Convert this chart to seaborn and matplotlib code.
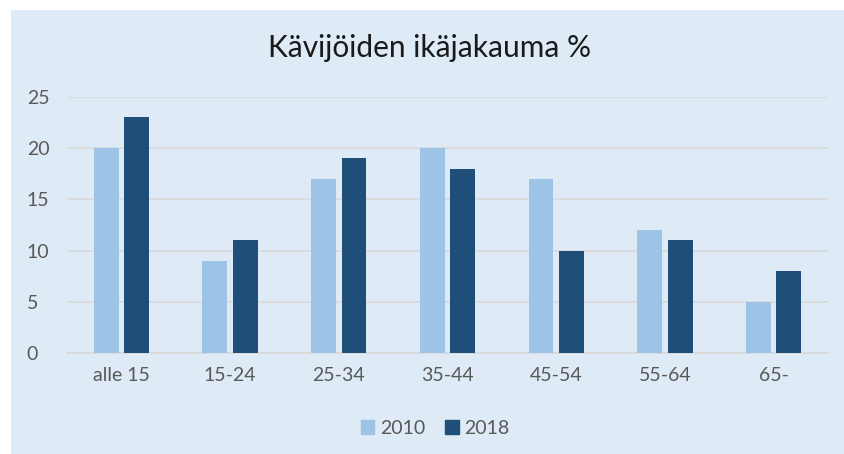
import pandas as pd
import matplotlib.pyplot as plt
import matplotlib.patches as mpatches
import seaborn as sns

# data
groups = ["alle 15", "15-24", "25-34", "35-44", "45-54", "55-64", "65-"]
v2010 = [20, 9, 17, 20, 17, 12, 5]
v2018 = [23, 11, 19, 18, 10, 11, 8]
years = ["2010", "2018"]

df = pd.DataFrame({
    "Ikä": groups * 2,
    "Vuosi": [years[0]] * len(groups) + [years[1]] * len(groups),
    "Osuus": v2010 + v2018,
})

bg = "#DEEAF6"
txt = "#595959"
colors = ["#9DC3E6", "#1F4E79"]

sns.set_theme(style="white")
plt.rcParams["font.family"] = ["Lato", "DejaVu Sans"]

fig = plt.figure(figsize=(8.45, 4.54), dpi=100)
fig.patch.set_facecolor("white")
fig.patches.append(mpatches.Rectangle((11 / 845, 0), 1 - 11 / 845, 1 - 10 / 454,
                                      transform=fig.transFigure, facecolor=bg,
                                      edgecolor="none", zorder=-5))

ax = fig.add_axes([67 / 845, 1 - 353 / 454, (828 - 67) / 845, (353 - 97) / 454])
ax.set_facecolor("none")
ax.set_zorder(2)

sns.barplot(data=df, x="Ikä", y="Osuus", hue="Vuosi",
            palette=colors, saturation=1, width=0.56, gap=0.18,
            linewidth=0, ax=ax, legend=False, zorder=3)

ax.set_ylim(0, 25)
ax.set_yticks(range(0, 26, 5))
ax.set_xlim(-0.5, len(groups) - 0.5)
ax.yaxis.grid(True, color="#D9D9D9", linewidth=1.2, zorder=0)
ax.set_axisbelow(True)
for s in ["top", "right", "left"]:
    ax.spines[s].set_visible(False)
ax.spines["bottom"].set_color("#D9D9D9")
ax.spines["bottom"].set_linewidth(1.2)
ax.tick_params(axis="both", length=0, labelsize=14, colors=txt)
ax.tick_params(axis="x", pad=10)
ax.tick_params(axis="y", pad=29)
for lab in ax.get_yticklabels():
    lab.set_horizontalalignment("left")
ax.set_xlabel("")
ax.set_ylabel("")

fig.text(430 / 845, 1 - 48 / 454, "Kävijöiden ikäjakauma %", ha="center", va="center",
         fontsize=21.5, color="#1a1a1a")

handles = [mpatches.Patch(color=colors[0], label="2010"),
           mpatches.Patch(color=colors[1], label="2018")]
fig.legend(handles=handles, loc="center", bbox_to_anchor=(0.515, 1 - 428 / 454),
           ncol=2, frameon=False, fontsize=14, labelcolor=txt,
           handlelength=0.7, handleheight=0.7, handletextpad=0.3, columnspacing=1.0)

fig.savefig("out.png", dpi=100, facecolor=fig.get_facecolor())
